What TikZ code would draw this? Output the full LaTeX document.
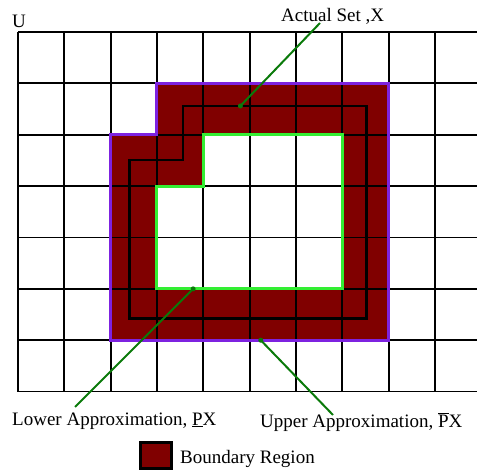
\documentclass[tikz,border=0pt]{standalone}
\usepackage{fontspec}
\setmainfont{Liberation Serif}
\definecolor{rsBoundary}{HTML}{800000}
\definecolor{rsUpper}{HTML}{7D22E0}
\definecolor{rsLower}{HTML}{33EE33}
\definecolor{rsLeader}{HTML}{0A7A0A}

\begin{document}
\begin{tikzpicture}[x=1pt, y=-1pt, font=\fontsize{19}{22}\selectfont,
    gridline/.style={black, line width=1.8pt},
    leader/.style={rsLeader, line width=2pt},
    txtlabel/.style={inner sep=0pt, anchor=base west}]
    \useasboundingbox (0,0) rectangle (477,473);

    % universe grid with the regions, in cell units
    \begin{scope}[shift={(18,32)}, x=46.33pt, y=-51.37pt]
        \fill[rsBoundary] (3,1) -- (8,1) -- (8,6) -- (2,6) -- (2,2) -- (3,2) -- cycle;
        \fill[white] (4,2) -- (7,2) -- (7,5) -- (3,5) -- (3,3) -- (4,3) -- cycle;
        \foreach \i in {0,...,9}
            \draw[gridline] (\i,0) -- (\i,7);
        \foreach \j in {0,...,7}
            \draw[gridline] (0,\j) -- (9.91,\j);
        \draw[black, line width=2.8pt] (2.4,2.49) -- (3.56,2.49) -- (3.56,1.44) -- (7.53,1.44) -- (7.53,5.57) -- (2.4,5.57) -- cycle;
        \draw[rsUpper, line width=3pt] (3,1) -- (8,1) -- (8,6) -- (2,6) -- (2,2) -- (3,2) -- cycle;
        \draw[rsLower, line width=3pt] (4,2) -- (7,2) -- (7,5) -- (3,5) -- (3,3) -- (4,3) -- cycle;
        \coordinate (setX) at (4.8,1.44);
        \coordinate (lowX) at (3.78,5);
        \coordinate (upX) at (5.24,6);
    \end{scope}

    \node[txtlabel] (U) at (12,28) {U};
    \node[txtlabel] (actual) at (281,21.5) {Actual Set ,X};
    \node[txtlabel] (lower) at (12,425) {Lower Approximation, \underline{P}X};
    \node[txtlabel] (upper) at (260,427.5) {Upper Approximation, $\overline{\mbox{P}}$X};
    \node[draw, line width=2.5pt, fill=rsBoundary, minimum width=31pt, minimum height=26pt, inner sep=0pt] (legbox) at (156,455.5) {};
    \node[txtlabel] (boundary) at (180,463) {Boundary Region};

    % leaders
    \draw[leader] (setX) -- ([xshift=39pt,yshift=-1.5pt]actual.base west);
    \draw[leader] (lowX) -- ([xshift=63pt,yshift=18pt]lower.base west);
    \draw[leader] (upX) -- ([xshift=73pt,yshift=12.5pt]upper.base west);
    \foreach \p in {setX,lowX,upX}
        \fill[rsLeader] (\p) circle (2.5pt);
\end{tikzpicture}
\end{document}
